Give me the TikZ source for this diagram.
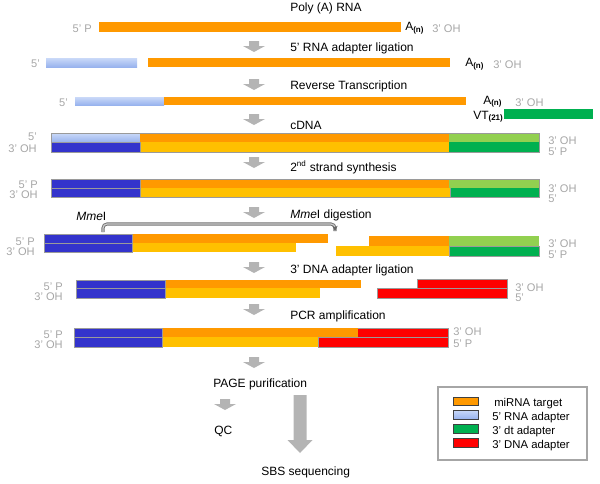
\documentclass[tikz,border=0pt]{standalone}
\usepackage{fontspec}
\setmainfont{Liberation Sans}
\usetikzlibrary{arrows.meta}
\definecolor{cOr}{HTML}{FF9900}
\definecolor{cYe}{HTML}{FFC000}
\definecolor{cDb}{HTML}{3333CC}
\definecolor{cLbA}{HTML}{CAD9F8}
\definecolor{cLbB}{HTML}{98B3EE}
\definecolor{cLg}{HTML}{92D050}
\definecolor{cGr}{HTML}{00B050}
\definecolor{cRd}{HTML}{FF0000}
\definecolor{cGray}{HTML}{A6A6A6}
\definecolor{cEdge}{HTML}{9A9A9A}
\definecolor{cArrow}{HTML}{B4B4B4}
\newcommand{\blockarr}[6]{\fill[cArrow] (#1-#5,#2) -- (#1+#5,#2) -- (#1+#5,#3) -- (#1+#6,#3) -- (#1,#4) -- (#1-#6,#3) -- (#1-#5,#3) -- cycle;}
\newcommand{\stdarr}[2]{\blockarr{#1}{#2}{#2+5}{#2+11}{5}{11}}
\tikzset{
  title/.style={anchor=base west, font=\fontsize{9}{10}\selectfont, inner sep=0pt},
  lbl/.style={font=\fontsize{8.3}{9}\selectfont, text=cGray, inner sep=0pt},
  lblL/.style={lbl, anchor=base east},
  lblR/.style={lbl, anchor=base west},
  poly/.style={anchor=base west, font=\fontsize{9}{10}\selectfont, inner sep=0pt},
  edge/.style={draw=cEdge, line width=0.6pt},
  leg/.style={anchor=base west, font=\fontsize{8.5}{9}\selectfont, inner sep=0pt},
  swatch/.style={draw=black!75, line width=0.5pt},
  lbshade/.style={top color=cLbA, bottom color=cLbB},
}
\begin{document}
\begin{tikzpicture}[x=0.75pt,y=-0.75pt]
\useasboundingbox (0,0) rectangle (600,483);

% ---------- titles ----------
\node[title] (t1) at (290,11) {Poly (A) RNA};
\node[title] (t2) at (290,51.5) {5’ RNA adapter ligation};
\node[title] (t3) at (290,89) {Reverse Transcription};
\node[title] (t4) at (290,129) {cDNA};
\node[title] (t5) at (290,171.5) {2\textsuperscript{nd} strand synthesis};
\node[title] (t6) at (290,218) {\textit{Mme}I digestion};
\node[title] (t6b) at (76,220) {\textit{Mme}I};
\node[title] (t7) at (290,273) {3’ DNA adapter ligation};
\node[title] (t8) at (290,319) {PCR amplification};
\node[title] (t9) at (213,387) {PAGE purification};
\node[title] (t10) at (214,434) {QC};
\node[title] (t11) at (261,475) {SBS sequencing};

% ---------- arrows ----------
\stdarr{254}{41}
\stdarr{254}{79}
\stdarr{254}{114}
\stdarr{254}{157}
\stdarr{254}{207}
\stdarr{254}{262}
\stdarr{254}{304}
\stdarr{254}{357}
\stdarr{225}{399}
\blockarr{300}{395}{440}{453}{6.5}{12.5}

% ---------- row 1 ----------
\fill[cOr] (99,22) rectangle (401,32);
\node[lblL] (r1l) at (92,32.5) {5’ P};
\node[poly] (r1a) at (405,30.7) {A\textsubscript{\textbf{(n)}}};
\node[lblR] (r1r) at (432,32.5) {3’ OH};

% ---------- row 2 ----------
\shade[lbshade] (46,58) rectangle (137,67);
\fill[cOr] (148,58) rectangle (450,67);
\node[lblL] (r2l) at (40,67.7) {5’};
\node[poly] (r2a) at (465,66.7) {A\textsubscript{\textbf{(n)}}};
\node[lblR] (r2r) at (493,68) {3’ OH};

% ---------- row 3 ----------
\shade[lbshade] (75,97) rectangle (164,105);
\fill[cOr] (164,97) rectangle (466,105);
\node[lblL] (r3l) at (68,106) {5’};
\node[poly] (r3a) at (483,104) {A\textsubscript{\textbf{(n)}}};
\node[lblR] (r3r) at (515,106) {3’ OH};
\node[poly] (r3vt) at (473,119) {VT\textsubscript{\textbf{(21)}}};
\fill[cGr] (504,109) rectangle (593,119);

% ---------- row 4 : cDNA ----------
\shade[lbshade] (51,133) rectangle (140,142);
\fill[cOr] (140,133) rectangle (449,142);
\fill[cLg] (449,133) rectangle (539,142);
\fill[cDb] (51,142) rectangle (140,152);
\fill[cYe] (140,142) rectangle (449,152);
\fill[cGr] (449,142) rectangle (539,152);
\draw[edge] (51,133) rectangle (539,152);
\draw[edge] (51,142) -- (140,142) -- (140,152);
\node[lblL] (r4l1) at (37,140) {5’};
\node[lblL] (r4l2) at (37,152) {3’ OH};
\node[lblR] (r4r1) at (548,144) {3’ OH};
\node[lblR] (r4r2) at (548,155) {5’ P};

% ---------- row 5 : 2nd strand ----------
\fill[cDb] (51,179) rectangle (140,197);
\fill[cOr] (140,179) rectangle (449,188);
\fill[cLg] (449,179) rectangle (539,188);
\fill[cYe] (140,188) rectangle (450,197);
\fill[cGr] (450,188) rectangle (539,197);
\draw[edge] (51,179) rectangle (539,197);
\draw[edge] (51,188) -- (140,188);
\draw[edge] (140,179) -- (140,197);
\draw[edge] (450,188) -- (450,197);
\node[lblL] (r5l1) at (38,188) {5’ P};
\node[lblL] (r5l2) at (38,198) {3’ OH};
\node[lblR] (r5r1) at (548,192) {3’ OH};
\node[lblR] (r5r2) at (548,202) {5’};

% ---------- row 6 : MmeI digestion ----------
\fill[cDb] (44,234) rectangle (132,252);
\fill[cOr] (132,234) rectangle (328,243);
\fill[cYe] (132,243) rectangle (296,252);
\draw[edge] (44,234) rectangle (132,252);
\draw[edge] (44,243) -- (132,243);
\fill[cOr] (369,236) rectangle (449,246);
\fill[cLg] (449,236) rectangle (539,246);
\fill[cYe] (336,246) rectangle (449,256);
\fill[cGr] (449,246) rectangle (539,256);
\draw[edge] (449,246) rectangle (539,256);
\node[lblL] (r6l1) at (35,245) {5’ P};
\node[lblL] (r6l2) at (35,255) {3’ OH};
\node[lblR] (r6r1) at (548,247) {3’ OH};
\node[lblR] (r6r2) at (548,258) {5’ P};
\coordinate (cutL) at (103,232);
\coordinate (cutR) at (335,231);
\draw[draw=black!55, double=black!20, double distance=0.9pt, line width=0.7pt, rounded corners=3pt]
  (cutL) -- (103,224) -- (335,224) -- (cutR);
\draw[-{Stealth[length=4pt,width=4pt]}, black!60, line width=0.8pt] (335,227) -- (cutR);

% ---------- row 7 : 3' DNA adapter ligation ----------
\fill[cDb] (76,280) rectangle (165,298);
\fill[cOr] (165,280) rectangle (361,288);
\fill[cYe] (165,288) rectangle (320,298);
\draw[edge] (76,280) rectangle (165,298);
\draw[edge] (76,288) -- (165,288);
\fill[cRd] (417,279) rectangle (507,288);
\fill[cRd] (377,288) rectangle (507,298);
\draw[edge] (417,279) -- (507,279) -- (507,298) -- (377,298) -- (377,288) -- (417,288) -- cycle;
\draw[edge] (417,288) -- (507,288);
\node[lblL] (r7l1) at (63,290) {5’ P};
\node[lblL] (r7l2) at (63,300) {3’ OH};
\node[lblR] (r7r1) at (515,291) {3’ OH};
\node[lblR] (r7r2) at (515,301) {5’};

% ---------- row 8 : PCR amplification ----------
\fill[cDb] (74,328) rectangle (162,347);
\fill[cOr] (162,328) rectangle (358,337);
\fill[cRd] (358,328) rectangle (448,337);
\fill[cYe] (162,337) rectangle (318,347);
\fill[cRd] (318,337) rectangle (448,347);
\draw[edge] (74,328) rectangle (162,347);
\draw[edge] (74,337) -- (162,337);
\draw[edge] (318,337) -- (448,337) -- (448,347) -- (318,347) -- cycle;
\draw[edge] (358,328) -- (448,328) -- (448,337);
\node[lblL] (r8l1) at (63,338) {5’ P};
\node[lblL] (r8l2) at (63,348) {3’ OH};
\node[lblR] (r8r1) at (453,335) {3’ OH};
\node[lblR] (r8r2) at (453,347) {5’ P};

% ---------- legend ----------
\draw[cGray, line width=1.5pt] (438,387) rectangle (587,460);
\filldraw[swatch, fill=cOr] (453,397) rectangle (478,405);
\shade[lbshade] (453,410) rectangle (478,419);
\draw[swatch] (453,410) rectangle (478,419);
\filldraw[swatch, fill=cGr] (453,424) rectangle (478,433);
\filldraw[swatch, fill=cRd] (453,438) rectangle (478,447);
\node[leg] (lg1) at (494,406.5) {miRNA target};
\node[leg] (lg2) at (492,420) {5’ RNA adapter};
\node[leg] (lg3) at (492,434) {3’ dt adapter};
\node[leg] (lg4) at (492,448) {3’ DNA adapter};
\end{tikzpicture}
\end{document}
